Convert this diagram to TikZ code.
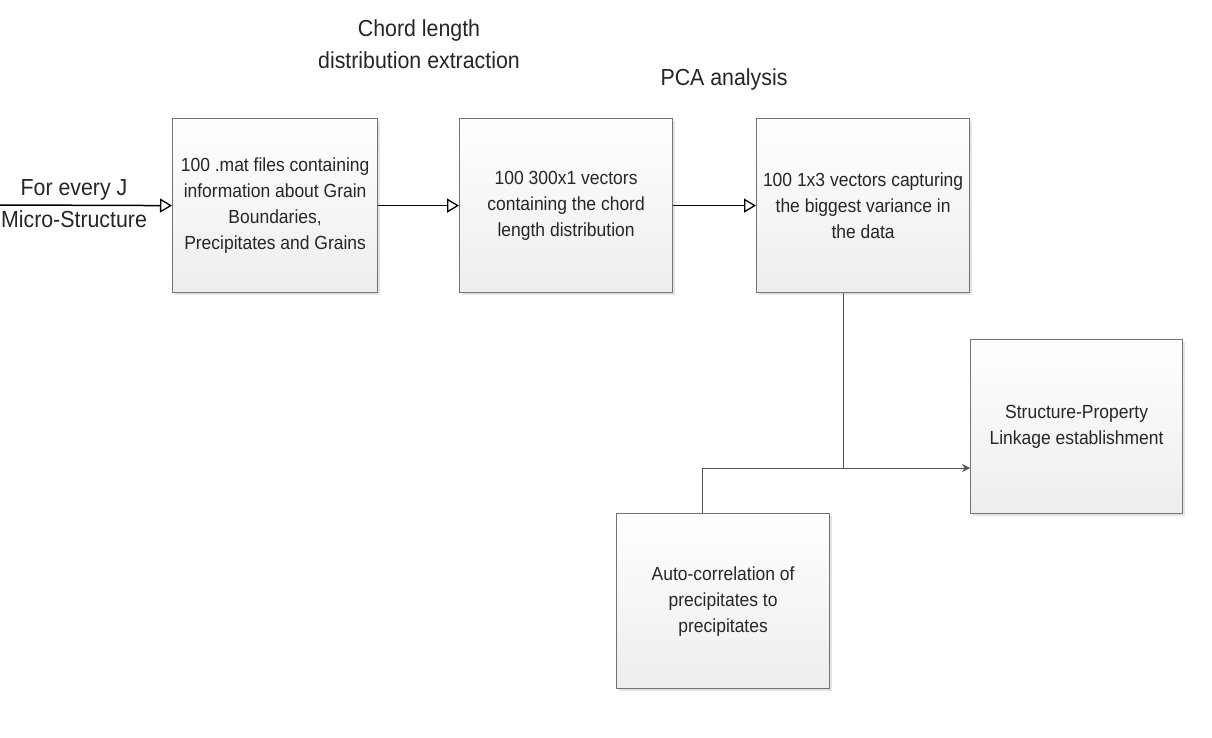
\documentclass[tikz,border=0pt]{standalone}
\usepackage{fontspec}
\setmainfont{Liberation Sans}[FakeStretch=0.92]
\usetikzlibrary{arrows.meta,shadows}
\begin{document}
\begin{tikzpicture}[x=1pt,y=-1pt,
  box/.style={draw=gray!90!black,line width=1.2pt,top color=white,bottom color=gray!14,
    drop shadow={shadow xshift=2pt,shadow yshift=-2pt,fill=gray!35,opacity=0.6},
    anchor=north west,inner sep=0pt,align=center,text=black!85,
    font=\fontsize{19}{26}\selectfont},
  lbl/.style={align=center,text=black!85,font=\fontsize{23.2}{32}\selectfont},
  mainarrow/.style={line width=1.5pt,-{Triangle[open,length=12pt,width=14pt,line width=1.3pt]}},
  sidearrow/.style={line width=1pt,draw=gray!65!black,-{Stealth[length=8pt,width=8pt]}},
  sideline/.style={line width=1pt,draw=gray!65!black}]
\useasboundingbox[fill=white] (0,0) rectangle (1212,738);

\node[box,minimum width=205pt,minimum height=174pt] (b1) at (172,118)
  {100 .mat files containing\\information about Grain\\Boundaries,\\Precipitates and Grains};
\node[box,minimum width=213pt,minimum height=174pt] (b2) at (459,118)
  {100 300x1 vectors\\containing the chord\\length distribution};
\node[box,minimum width=213pt,minimum height=174pt] (b3) at (756,118)
  {100 1x3 vectors capturing\\the biggest variance in\\the data};
\node[box,minimum width=212pt,minimum height=174pt] (b4) at (970,339)
  {Structure-Property\\Linkage establishment};
\node[box,minimum width=213pt,minimum height=175pt] (b5) at (616,513)
  {Auto-correlation of\\precipitates to\\precipitates};

\node[lbl] (l1) at (419,44) {Chord length\\distribution extraction};
\node[lbl] (l2) at (724,80) {PCA analysis};
\node[lbl] (l0) at (74,204) {For every J\\Micro-Structure};

\coordinate (in) at (0,205);
\coordinate (s3) at ([xshift=-20pt]b3.south);
\coordinate (j) at (s3 |- 0,468);
\coordinate (t5) at ([xshift=-21pt]b5.north);
\draw[mainarrow] (in) -- (b1.west);
\draw[mainarrow] (b1.east) -- (b2.west);
\draw[mainarrow] (b2.east) -- (b3.west);
\draw[sidearrow] (s3) -- (j) -- (b4.west |- j);
\draw[sideline] (t5) -- (t5 |- j) -- (j);
\end{tikzpicture}
\end{document}
